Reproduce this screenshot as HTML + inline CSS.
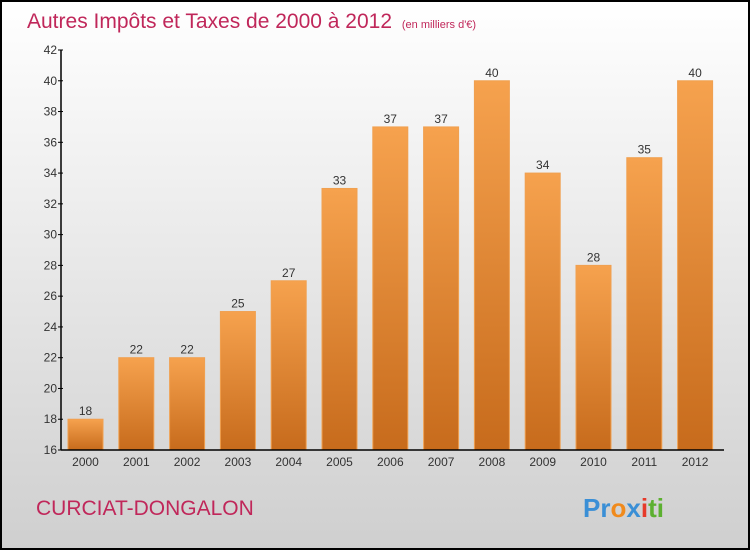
<!DOCTYPE html>
<html><head><meta charset="utf-8"><style>
body{margin:0;width:750px;height:550px;overflow:hidden}
svg{display:block;font-family:"Liberation Sans",sans-serif}
</style></head><body>
<svg id="c" width="750" height="550">
<defs>
<linearGradient id="bg" x1="0" y1="0" x2="0" y2="1"><stop offset="0" stop-color="#ffffff"/><stop offset="1" stop-color="#cfcfcf"/></linearGradient>
<linearGradient id="bar" x1="0" y1="0" x2="0" y2="1"><stop offset="0" stop-color="#f6a24e"/><stop offset="1" stop-color="#c76b1c"/></linearGradient>
</defs>
<rect x="1" y="1" width="748" height="548" fill="url(#bg)" stroke="#000" stroke-width="2"/>
<text x="27" y="28" font-size="21" fill="#c0275a">Autres Impôts et Taxes de 2000 à 2012 <tspan font-size="11" dx="4">(en milliers d'€)</tspan></text>
<text x="36" y="515" font-size="21" fill="#c0275a">CURCIAT-DONGALON</text>
<text x="583" y="517" font-size="26" font-weight="bold"><tspan fill="#3a8fd6">Pr</tspan><tspan fill="#f08a1c">o</tspan><tspan fill="#3a8fd6">x</tspan><tspan fill="#e63a2a">i</tspan><tspan fill="#5cb030">ti</tspan></text>
<g id="plot"></g>
</svg>
<script>
const categories=["2000","2001","2002","2003","2004","2005","2006","2007","2008","2009","2010","2011","2012"];
const values=[18,22,22,25,27,33,37,37,40,34,28,35,40];
const yTicks=[16,18,20,22,24,26,28,30,32,34,36,38,40,42];
const yMin=16,yMax=42,plotTop=50,plotBot=450,axisX=61,x0=85.5,step=50.8,bw=35;
const yS=v=>plotBot-(v-yMin)/(yMax-yMin)*(plotBot-plotTop);
const xS=i=>x0+i*step;
const g=document.getElementById('plot');
const NS="http://www.w3.org/2000/svg";
function mk(t,a){const e=document.createElementNS(NS,t);for(const k in a)e.setAttribute(k,a[k]);g.appendChild(e);return e;}
values.forEach((v,i)=>{
 const r=mk('rect',{x:xS(i)-bw/2,y:yS(v),width:bw,height:plotBot-yS(v),fill:'url(#bar)',stroke:'#f0a050','stroke-width':1});
 
 
 const t=mk('text',{x:xS(i),y:yS(v)-4,'font-size':12,fill:'#333','text-anchor':'middle'});
 t.textContent=v;
 
 
 const c=mk('text',{x:xS(i),y:plotBot+16,'font-size':12,fill:'#333','text-anchor':'middle'});
 c.textContent=categories[i];
 
 
});
yTicks.forEach(v=>{
 const l=mk('line',{x1:axisX-3,x2:axisX+2,y1:yS(v),y2:yS(v),stroke:'#000'});
 
 
 const t=mk('text',{x:axisX-4,y:yS(v)+4,'font-size':12,fill:'#333','text-anchor':'end'});
 t.textContent=v;
 
 
});
const ya=mk('line',{x1:axisX,x2:axisX,y1:plotTop,y2:plotBot,stroke:'#000','stroke-width':1.5});


const xa=mk('line',{x1:axisX,x2:724,y1:plotBot,y2:plotBot,stroke:'#000','stroke-width':1.5});


</script>
</body></html>
